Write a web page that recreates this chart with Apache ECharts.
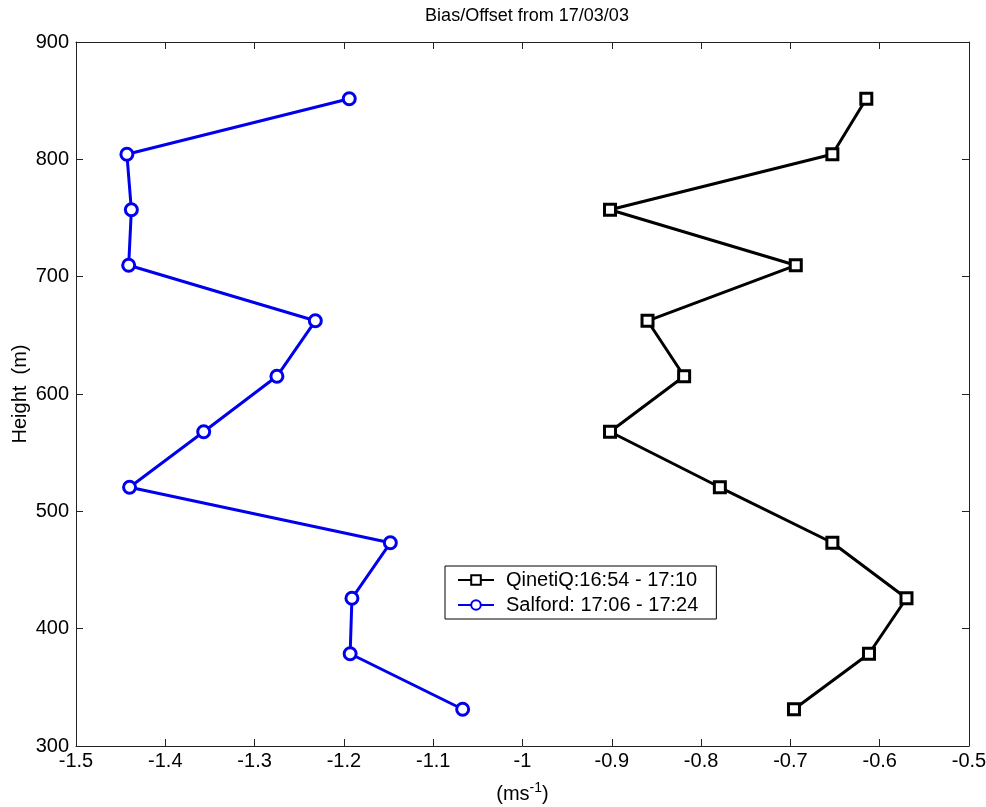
<!DOCTYPE html>
<html>
<head>
<meta charset="utf-8">
<script src="https://cdn.jsdelivr.net/npm/echarts@6/dist/echarts.min.js"></script>
<style>
  html, body { margin: 0; padding: 0; background: #fff; }
  #chart { width: 986px; height: 807px; }
</style>
</head>
<body>
<div id="chart"></div>
<script>
// Measurement heights (m), bottom to top
const heights = [331.3, 378.6, 425.9, 473.2, 520.5, 567.8, 615.1, 662.4, 709.7, 757.0, 804.3, 851.6];
// Bias/offset (m/s) at each height
const qinetiq = [-0.696, -0.612, -0.570, -0.653, -0.779, -0.902, -0.819, -0.860, -0.694, -0.902, -0.653, -0.615];
const salford = [-1.067, -1.193, -1.191, -1.148, -1.440, -1.357, -1.275, -1.232, -1.441, -1.438, -1.443, -1.194];
const seriesNames = ['QinetiQ:16:54 - 17:10', 'Salford: 17:06 - 17:24'];

const FONT = "'Liberation Sans', Arial, sans-serif";
const pairs = (xs) => xs.map((x, i) => [x, heights[i]]);

const chart = echarts.init(document.getElementById('chart'));

const tickStyle = { show: true, inside: true, length: 7, lineStyle: { color: '#222', width: 1 } };
const lineStyleAxis = { show: true, lineStyle: { color: '#222', width: 1 } };

chart.setOption({
  backgroundColor: '#fff',
  animation: false,
  title: {
    text: 'Bias/Offset from 17/03/03',
    left: 522, top: 2, textAlign: 'center',
    textStyle: { fontFamily: FONT, fontSize: 18, fontWeight: 'normal', color: '#000' }
  },
  grid: { left: 76, right: 17, top: 42, bottom: 61, containLabel: false, outerBoundsMode: 'none' },
  legend: {
    left: 445, top: 566, orient: 'vertical',
    itemWidth: 36, itemHeight: 12, itemGap: 5,
    padding: [4, 18, 4, 12],
    borderColor: '#000', borderWidth: 1, backgroundColor: '#fff',
    textStyle: { fontFamily: FONT, fontSize: 20, color: '#000', padding: [0, 0, 0, 7] },
    data: seriesNames
  },
  xAxis: [{
    type: 'value', min: -1.5, max: -0.5, interval: 0.1,
    name: '(ms{sup|-1})', nameLocation: 'middle', nameGap: 35, nameMoveOverlap: false,
    nameTextStyle: {
      fontFamily: FONT, fontSize: 20, color: '#000',
      rich: { sup: { fontFamily: FONT, fontSize: 14, color: '#000', padding: [0, 0, 12, 0] } }
    },
    axisLine: lineStyleAxis, axisTick: tickStyle, splitLine: { show: false },
    axisLabel: { fontFamily: FONT, fontSize: 20, color: '#000', margin: 5 }
  }, {
    type: 'value', min: -1.5, max: -0.5, interval: 0.1, position: 'top',
    axisLine: lineStyleAxis, axisTick: tickStyle, splitLine: { show: false },
    axisLabel: { show: false }
  }],
  yAxis: [{
    type: 'value', min: 300, max: 900, interval: 100,
    name: 'Height  (m)', nameLocation: 'middle', nameGap: 46, nameMoveOverlap: false,
    nameTextStyle: { fontFamily: FONT, fontSize: 20, color: '#000' },
    axisLine: lineStyleAxis, axisTick: tickStyle, splitLine: { show: false },
    axisLabel: { fontFamily: FONT, fontSize: 20, color: '#000', margin: 7 }
  }, {
    type: 'value', min: 300, max: 900, interval: 100, position: 'right',
    axisLine: lineStyleAxis, axisTick: tickStyle, splitLine: { show: false },
    axisLabel: { show: false }
  }],
  series: [{
    name: seriesNames[0], type: 'line',
    data: pairs(qinetiq),
    symbol: 'rect', symbolSize: 11,
    lineStyle: { color: '#000', width: 3 },
    itemStyle: { color: '#fff', borderColor: '#000', borderWidth: 3 }
  }, {
    name: seriesNames[1], type: 'line',
    data: pairs(salford),
    symbol: 'circle', symbolSize: 12,
    lineStyle: { color: '#0000ee', width: 3 },
    itemStyle: { color: '#fff', borderColor: '#0000ee', borderWidth: 3 }
  }]
});
</script>
</body>
</html>
